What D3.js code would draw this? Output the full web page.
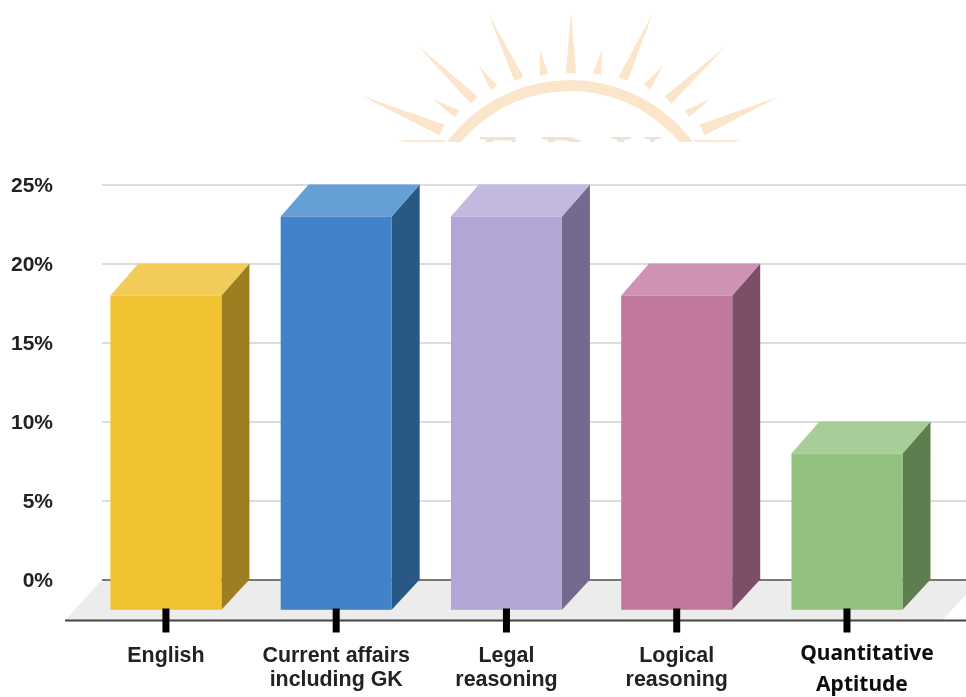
<!DOCTYPE html>
<html lang="en">
<head>
<meta charset="utf-8">
<title>Exam sections</title>
<script src="https://cdnjs.cloudflare.com/ajax/libs/d3/7.8.5/d3.min.js"></script>
<style>
html, body { margin: 0; padding: 0; background: #fff; }
svg { display: block; }
.axis text, .cat { font-family: "Liberation Sans", sans-serif; font-weight: bold; fill: #222; }
</style>
</head>
<body>
<script>
// data
var categories = ["English", "Current affairs including GK", "Legal reasoning", "Logical reasoning", "Quantitative Aptitude"];
var values = [20, 25, 25, 20, 10];
var yTicks = [0, 5, 10, 15, 20, 25];
var labelLines = [["English"], ["Current affairs", "including GK"], ["Legal", "reasoning"], ["Logical", "reasoning"], ["Quantitative", "Aptitude"]];
var frontColors = ["#f0c230", "#3f83c8", "#b3a5d6", "#c0789f", "#92c27e"];
var topColors = ["#f2cc5a", "#659fd6", "#c3b8e0", "#ce93b4", "#a8cd98"];
var sideColors = ["#9d7f20", "#2a5885", "#756b8e", "#7e4e67", "#5f7e50"];

// watermark sun rays: tip x, tip y, base x, base y, half width at base
var rays = [[571, 11, 571, 73, 5], [602, 50, 597, 74, 4], [540, 50, 544, 75, 4.5],
  [489, 15, 519, 79, 5], [653, 13, 623, 79, 5], [479, 66, 494, 88, 4], [663, 66, 647, 87, 4],
  [417, 45, 474, 100, 5], [725, 47, 668, 100, 5], [433, 99, 457, 114, 4], [710, 99, 687, 114, 4],
  [362, 96, 442, 130, 6], [778, 97, 702, 130, 6], [397, 140.5, 445, 144, 4], [742, 140.5, 695, 144, 4]];

var w = 966, h = 697;
var depthX = 28, depthTop = 32, depthBottom = 30.3;

var svg = d3.select("body").append("svg").attr("width", w).attr("height", h);

var defs = svg.append("defs");
defs.append("filter").attr("id", "soft").append("feGaussianBlur").attr("stdDeviation", 0.5);
defs.append("clipPath").attr("id", "markclip").append("rect")
  .attr("x", 0).attr("y", 0).attr("width", w).attr("height", 142);

// watermark, cut off above the chart
var mark = svg.append("g").attr("clip-path", "url(#markclip)")
  .append("g").attr("filter", "url(#soft)");

mark.selectAll("path.ray").data(rays).enter().append("path")
  .attr("class", "ray")
  .attr("fill", "#fce6cb")
  .attr("d", function(d) {
    var dx = d[2] - d[0], dy = d[3] - d[1], len = Math.sqrt(dx * dx + dy * dy);
    var nx = -dy / len * d[4], ny = dx / len * d[4];
    return "M" + d[0] + "," + d[1] + "L" + (d[2] + nx) + "," + (d[3] + ny) + "L" + (d[2] - nx) + "," + (d[3] - ny) + "Z";
  });

mark.append("path")
  .attr("transform", "translate(570,233)")
  .attr("fill", "#fce6cb")
  .attr("d", d3.arc().innerRadius(142).outerRadius(153).startAngle(-Math.PI / 2).endAngle(Math.PI / 2));

mark.append("text")
  .attr("x", 579).attr("y", 184)
  .attr("text-anchor", "middle")
  .style("font-family", "'Liberation Serif', serif")
  .style("font-size", "72px")
  .style("letter-spacing", "18px")
  .attr("fill", "#ece3d6")
  .text("EDU");

// scales, y is measured on the back wall
var x = d3.scaleBand().domain(categories).range([80.8, 932.1]).paddingInner(0.348).paddingOuter(0.174);
var y = d3.scaleLinear().domain([0, 25]).range([579.5, 184.5]);

var chart = svg.append("g").attr("filter", "url(#soft)");

// floor
var floorTop = y(0), floorBottom = 620.5;
chart.append("polygon")
  .attr("fill", "#ececec")
  .attr("points", [[102, floorTop], [w, floorTop], [w, 595], [942, floorBottom], [65, floorBottom]].join(" "));

// y axis + gridlines
var yAxis = d3.axisLeft(y).tickValues(yTicks).tickSize(-(w - 102)).tickPadding(49)
  .tickFormat(function(d) { return d + "%"; });
var yg = chart.append("g").attr("class", "axis").attr("transform", "translate(102,0)").call(yAxis);
yg.select(".domain").remove();
yg.selectAll("line")
  .attr("stroke", function(d) { return d === 0 ? "#777" : "#dcdcdc"; })
  .attr("stroke-width", 2);
yg.selectAll("text").style("font-size", "21px");

// 3D bars
var bars = chart.selectAll("g.bar").data(categories).enter().append("g").attr("class", "bar");

bars.append("polygon")
  .attr("fill", function(d, i) { return sideColors[i]; })
  .attr("points", function(d, i) {
    var r = x(d) + x.bandwidth(), t = y(values[i]);
    return [[r, t + depthTop], [r + depthX, t], [r + depthX, y(0)], [r, y(0) + depthBottom]].join(" ");
  });

bars.append("polygon")
  .attr("fill", function(d, i) { return topColors[i]; })
  .attr("points", function(d, i) {
    var l = x(d), r = l + x.bandwidth(), t = y(values[i]);
    return [[l, t + depthTop], [l + depthX, t], [r + depthX, t], [r, t + depthTop]].join(" ");
  });

bars.append("rect")
  .attr("fill", function(d, i) { return frontColors[i]; })
  .attr("x", function(d) { return x(d); })
  .attr("y", function(d, i) { return y(values[i]) + depthTop; })
  .attr("width", x.bandwidth())
  .attr("height", function(d, i) { return y(0) + depthBottom - y(values[i]) - depthTop; });

// base line
chart.append("line")
  .attr("x1", 65).attr("x2", w)
  .attr("y1", floorBottom).attr("y2", floorBottom)
  .attr("stroke", "#444").attr("stroke-width", 2);

// x axis ticks
var xAxis = d3.axisBottom(x).tickSizeOuter(0).tickSize(12).tickFormat("");
var xg = chart.append("g").attr("transform", "translate(0," + floorBottom + ")").call(xAxis);
xg.select(".domain").remove();
xg.selectAll("line")
  .attr("y1", -12)
  .attr("stroke", "#000").attr("stroke-width", 7);
xg.selectAll("text").remove();

// category labels, the last one sits off centre in the source
var lineY = [[662], [662, 686], [662, 686], [662, 686], [660, 691]];
var lineDx = [[0], [0, 0], [0, 0], [0, 0], [20, 15]];
chart.selectAll("text.cat").data(categories).enter().append("text")
  .attr("class", "cat")
  .attr("text-anchor", "middle")
  .style("font-size", "21.4px")
  .each(function(d, i) {
    var t = d3.select(this);
    if (i === 4) t.style("font-family", "'Noto Sans', sans-serif").style("font-size", "21px").style("fill", "#111");
    labelLines[i].forEach(function(s, j) {
      t.append("tspan")
        .attr("x", x(d) + x.bandwidth() / 2 + lineDx[i][j])
        .attr("y", lineY[i][j])
        .text(s);
    });
  });
</script>
</body>
</html>
